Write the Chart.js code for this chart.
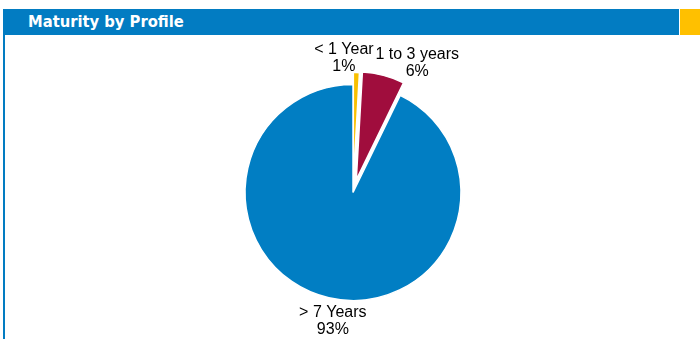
<!DOCTYPE html>
<html>
<head>
<meta charset="utf-8">
<script src="https://cdn.jsdelivr.net/npm/chart.js@4/dist/chart.umd.min.js"></script>
<style>
  html, body { margin: 0; padding: 0; background: #fff; }
  body { width: 700px; height: 339px; position: relative; overflow: hidden; }
  #chartWrap { position: absolute; left: 0; top: 0; width: 700px; height: 339px; }
  #hdr { position: absolute; left: 3px; top: 9px; width: 676px; height: 26px; background: #027CC2;
         color: #fff; font-family: "DejaVu Sans Condensed", "DejaVu Sans", sans-serif; font-stretch: condensed;
         font-weight: bold; font-size: 16.4px;
         line-height: 25px; padding-left: 25px; box-sizing: border-box; }
  #hdrY { position: absolute; left: 680px; top: 9px; width: 20px; height: 26px; background: #FFC000; }
  #leftLine { position: absolute; left: 3px; top: 35px; width: 2px; height: 304px; background: #027CC2; }
</style>
</head>
<body>
<div id="chartWrap"><canvas id="c" width="700" height="339"></canvas></div>
<div id="hdr">Maturity by Profile</div>
<div id="hdrY"></div>
<div id="leftLine"></div>
<script>
const categories = ['< 1 Year', '1 to 3 years', '> 7 Years'];
const values = [0.9, 6.3, 92.8];
const sliceColors = ['#F9C000', '#A00D3D', '#017EC3'];
const explode = [12, 13, 0];

const total = values.reduce((a, b) => a + b, 0);

const explodePlugin = {
  id: 'explodeSlices',
  afterDatasetUpdate(chart, args) {
    if (args.index !== 0) return;
    const meta = chart.getDatasetMeta(0);
    meta.data.forEach((arc, i) => {
      const d = explode[i] || 0;
      if (!d) return;
      const mid = (arc.startAngle + arc.endAngle) / 2;
      arc.x += Math.cos(mid) * d;
      arc.y += Math.sin(mid) * d;
    });
  }
};

const labelPlugin = {
  id: 'sliceLabels',
  afterDatasetsDraw(chart) {
    const ctx = chart.ctx;
    const meta = chart.getDatasetMeta(0);
    const area = chart.chartArea;
    const ox = (area.left + area.right) / 2;
    const oy = (area.top + area.bottom) / 2;
    const tweaks = [
      { r: 137, dx: -13, dy: 2 },
      { r: 140, dx: 29, dy: 6 },
      { r: 130, dx: 9, dy: 1 }
    ];
    ctx.save();
    ctx.font = '16px "Liberation Sans", Arial, sans-serif';
    ctx.fillStyle = '#000';
    ctx.textAlign = 'center';
    ctx.textBaseline = 'middle';
    meta.data.forEach((arc, i) => {
      const mid = (arc.startAngle + arc.endAngle) / 2;
      const t = tweaks[i];
      const cx = ox + Math.cos(mid) * t.r + t.dx;
      const cy = oy + Math.sin(mid) * t.r + t.dy;
      const pct = Math.round(values[i] / total * 100) + '%';
      ctx.fillText(categories[i], cx, cy - 8);
      ctx.fillText(pct, cx, cy + 9);
    });
    ctx.restore();
  }
};

new Chart(document.getElementById('c'), {
  type: 'pie',
  data: {
    labels: categories,
    datasets: [{
      data: values,
      backgroundColor: sliceColors,
      borderColor: '#ffffff',
      borderWidth: 1.5
    }]
  },
  options: {
    responsive: false,
    animation: false,
    radius: 108,
    layout: { padding: { left: 6, right: 0, top: 46, bottom: 0 } },
    plugins: {
      legend: { display: false },
      tooltip: { enabled: false },
      title: { display: false }
    }
  },
  plugins: [explodePlugin, labelPlugin]
});
</script>
</body>
</html>
